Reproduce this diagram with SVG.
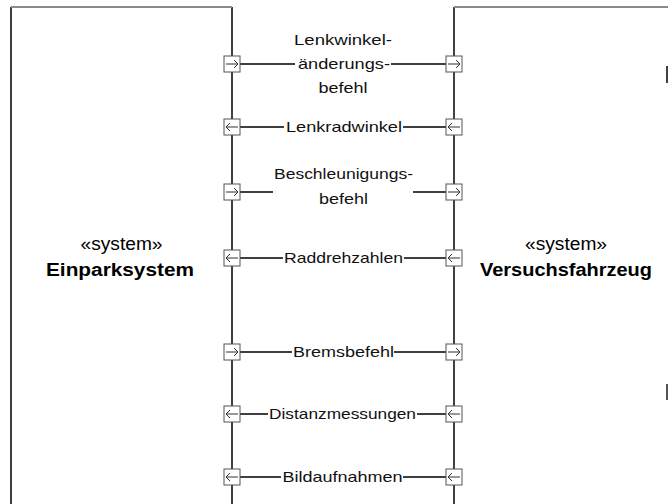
<svg xmlns="http://www.w3.org/2000/svg" width="668" height="504" viewBox="0 0 668 504">
  <defs>
    <style>
      .frame { fill: none; stroke: #000; stroke-width: 1.5; }
      .top { fill: none; stroke: #8a8a8a; stroke-width: 2; }
      .port { fill: #fff; stroke: #555; stroke-width: 1; }
      .pa { fill: none; stroke: #333; stroke-width: 1; }
      .flow { fill: none; stroke: #000; stroke-width: 1.5; }
      .lbl { font-family: "Liberation Sans", Arial, sans-serif; font-size: 15px; fill: #111; text-anchor: middle; }
      .st { font-family: "Liberation Sans", Arial, sans-serif; font-size: 18px; fill: #000; text-anchor: middle; }
      .nm { font-family: "Liberation Sans", Arial, sans-serif; font-size: 18px; font-weight: bold; fill: #000; text-anchor: middle; }
    </style>
    <!-- port glyphs: 16x16 box with an arrow pointing right or left -->
    <g id="pin">
      <rect class="port" x="-8" y="-8" width="16" height="16"/>
      <path class="pa" d="M-6,0 H6 M2,-4 L6,0 L2,4"/>
    </g>
    <g id="pout">
      <rect class="port" x="-8" y="-8" width="16" height="16"/>
      <path class="pa" d="M6,0 H-6 M-2,-4 L-6,0 L-2,4"/>
    </g>
  </defs>

  <rect width="668" height="504" fill="#fff"/>

  <!-- system block: Einparksystem -->
  <g id="einparksystem">
    <path class="frame" d="M11,7 V504 M232,7 V504"/>
    <path class="top" d="M11,7 H232"/>
    <text class="st" x="121.5" y="250" textLength="82" lengthAdjust="spacingAndGlyphs">«system»</text>
    <text class="nm" x="120" y="276" textLength="148" lengthAdjust="spacingAndGlyphs">Einparksystem</text>
  </g>

  <!-- system block: Versuchsfahrzeug -->
  <g id="versuchsfahrzeug">
    <path class="frame" d="M454,7 V504"/>
    <path class="top" d="M454,7 H668"/>
    <text class="st" x="566" y="250" textLength="82" lengthAdjust="spacingAndGlyphs">«system»</text>
    <text class="nm" x="566" y="276" textLength="172" lengthAdjust="spacingAndGlyphs">Versuchsfahrzeug</text>
    <path d="M667,66 V83" stroke="#000" stroke-width="1.5"/>
    <path d="M667,384 V400" stroke="#555" stroke-width="2"/>
  </g>

  <!-- item flows between the two systems -->
  <g id="connectors">
    <path class="flow" d="M240,64 H295 M391,64 H446"/>
    <path class="flow" d="M240,127 H284 M403,127 H446"/>
    <path class="flow" d="M240,192 H273 M413,192 H446"/>
    <path class="flow" d="M240,258 H283 M404,258 H446"/>
    <path class="flow" d="M240,352 H292 M394,352 H446"/>
    <path class="flow" d="M240,414 H268 M417,414 H446"/>
    <path class="flow" d="M240,477 H281 M403,477 H446"/>

    <text class="lbl" x="343" y="45" textLength="98" lengthAdjust="spacingAndGlyphs">Lenkwinkel-</text>
    <text class="lbl" x="344" y="69" textLength="92" lengthAdjust="spacingAndGlyphs">änderungs-</text>
    <text class="lbl" x="343" y="93" textLength="49" lengthAdjust="spacingAndGlyphs">befehl</text>
    <text class="lbl" x="344" y="132" textLength="116" lengthAdjust="spacingAndGlyphs">Lenkradwinkel</text>
    <text class="lbl" x="343.5" y="179" textLength="139" lengthAdjust="spacingAndGlyphs">Beschleunigungs-</text>
    <text class="lbl" x="343.5" y="204" textLength="49" lengthAdjust="spacingAndGlyphs">befehl</text>
    <text class="lbl" x="343.5" y="263" textLength="119" lengthAdjust="spacingAndGlyphs">Raddrehzahlen</text>
    <text class="lbl" x="343.5" y="357" textLength="101" lengthAdjust="spacingAndGlyphs">Bremsbefehl</text>
    <text class="lbl" x="342.5" y="419" textLength="147" lengthAdjust="spacingAndGlyphs">Distanzmessungen</text>
    <text class="lbl" x="342.5" y="482" textLength="120" lengthAdjust="spacingAndGlyphs">Bildaufnahmen</text>
  </g>

  <!-- ports on both block borders -->
  <g id="ports-einparksystem">
    <use href="#pin" x="232" y="64"/>
    <use href="#pout" x="232" y="127"/>
    <use href="#pin" x="232" y="192"/>
    <use href="#pout" x="232" y="258"/>
    <use href="#pin" x="232" y="352"/>
    <use href="#pout" x="232" y="414"/>
    <use href="#pout" x="232" y="477"/>
  </g>
  <g id="ports-versuchsfahrzeug">
    <use href="#pin" x="454" y="64"/>
    <use href="#pout" x="454" y="127"/>
    <use href="#pin" x="454" y="192"/>
    <use href="#pout" x="454" y="258"/>
    <use href="#pin" x="454" y="352"/>
    <use href="#pout" x="454" y="414"/>
    <use href="#pout" x="454" y="477"/>
  </g>
</svg>
